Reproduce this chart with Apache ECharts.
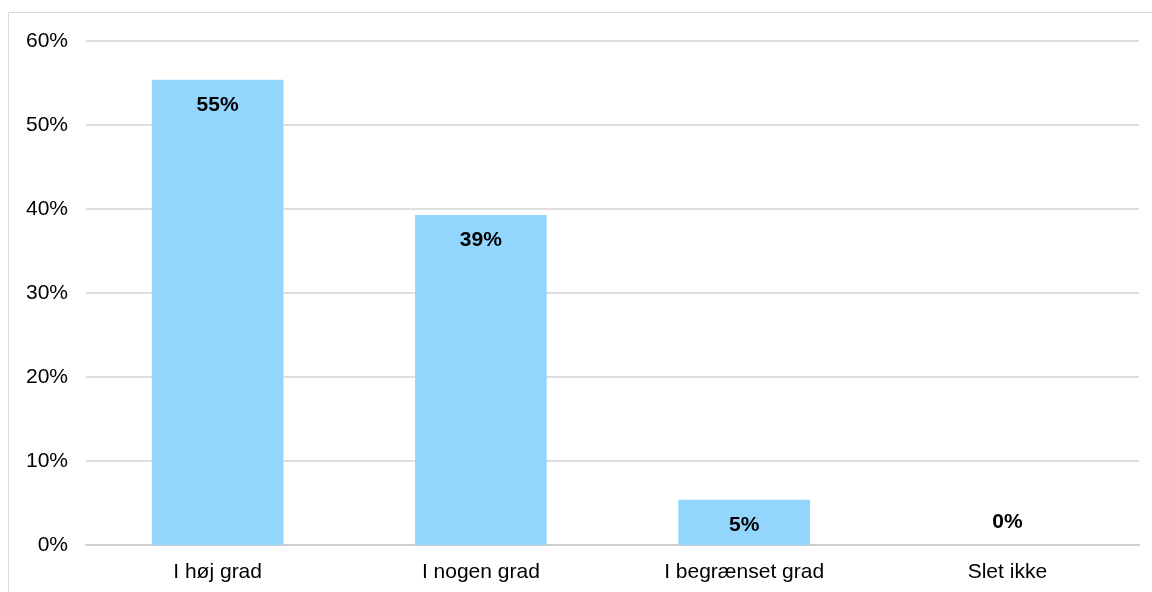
<!DOCTYPE html>
<html>
<head>
<meta charset="utf-8">
<script src="https://cdn.jsdelivr.net/npm/echarts@6/dist/echarts.min.js"></script>
<style>
  html, body { margin: 0; padding: 0; background: #ffffff; }
  #chart { width: 1152px; height: 592px; }
</style>
</head>
<body>
<div id="chart"></div>
<script>
// Survey answers and their shares (percent)
const categories = ['I høj grad', 'I nogen grad', 'I begrænset grad', 'Slet ikke'];
const shares = [55.4, 39.3, 5.4, 0];
const yTicks = [0, 10, 20, 30, 40, 50, 60];

const FONT = 'Liberation Sans, Arial, sans-serif';

const chart = echarts.init(document.getElementById('chart'), null, { renderer: 'canvas' });

// Bars with a label inside the top; an empty bar keeps its label above the axis
const barData = shares.map(v => ({
  value: v,
  label: v > 0
    ? { position: 'insideTop', distance: 15 }
    : { position: 'top', distance: 12 }
}));

chart.setOption({
  animation: false,
  backgroundColor: '#ffffff',
  graphic: [{
    type: 'rect',
    shape: { x: 8.5, y: 12.5, width: 1300, height: 800 },
    style: { fill: 'none', stroke: '#d9d9d9', lineWidth: 1 },
    silent: true,
    z: -1
  }],
  grid: { left: 86, right: 13, top: 41, bottom: 47, containLabel: false },
  xAxis: {
    type: 'category',
    data: categories,
    axisLine: { show: true, lineStyle: { color: '#d0d0d0', width: 2 } },
    axisTick: { show: false },
    axisLabel: { color: '#000000', fontFamily: FONT, fontSize: 21, margin: 17 }
  },
  yAxis: {
    type: 'value',
    min: yTicks[0],
    max: yTicks[yTicks.length - 1],
    interval: yTicks[1] - yTicks[0],
    axisLine: { show: false },
    axisTick: { show: false },
    splitLine: { show: true, lineStyle: { color: '#dedede', width: 2 } },
    axisLabel: {
      color: '#000000', fontFamily: FONT, fontSize: 21, margin: 18,
      formatter: v => v + '%'
    }
  },
  series: [{
    type: 'bar',
    data: barData,
    barWidth: '50%',
    itemStyle: { color: '#92d6fe' },
    label: {
      show: true,
      color: '#000000',
      fontFamily: FONT,
      fontSize: 21,
      fontWeight: 'bold',
      formatter: p => Math.round(p.value) + '%'
    }
  }]
});
</script>
</body>
</html>
